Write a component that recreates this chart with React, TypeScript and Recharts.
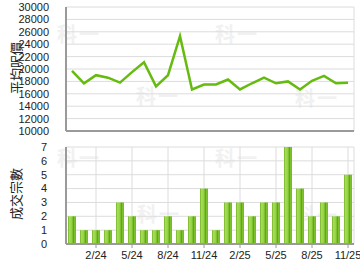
import React from "react";
import { ComposedChart, Line, Bar, XAxis, YAxis, CartesianGrid } from "recharts";

const months = [
  "12/23", "1/24", "2/24", "3/24", "4/24", "5/24", "6/24", "7/24", "8/24", "9/24", "10/24", "11/24",
  "12/24", "1/25", "2/25", "3/25", "4/25", "5/25", "6/25", "7/25", "8/25", "9/25", "10/25", "11/25",
];
const avgPrice = [
  19700, 17700, 19000, 18600, 17800, 19500, 21100, 17200, 19000, 25300, 16700, 17500,
  17500, 18300, 16700, 17700, 18600, 17700, 18000, 16700, 18100, 18900, 17700, 17800,
];
const deals = [2, 1, 1, 1, 3, 2, 1, 1, 2, 1, 2, 4, 1, 3, 3, 2, 3, 3, 7, 4, 2, 3, 2, 5];
const xTicks = ["2/24", "5/24", "8/24", "11/24", "2/25", "5/25", "8/25", "11/25"];
const priceTicks = [10000, 12000, 14000, 16000, 18000, 20000, 22000, 24000, 26000, 28000, 30000];
const dealTicks = [0, 1, 2, 3, 4, 5, 6, 7];
const priceLabel = "平均呎價";
const dealLabel = "成交宗數";
const watermark = "科一";

const data = months.map((m, i) => ({ month: m, price: avgPrice[i], deals: deals[i] }));

const FONT = "'Liberation Sans', Arial, sans-serif";
const tickStyle = { fontSize: 11, fill: "#222", fontFamily: FONT };
const axisLineStyle = { stroke: "#9a9a9a", strokeWidth: 2 };
const gridColor = "#dcdcdc";

const sideLabel = (text: string, top: number) => (
  <div
    style={{
      position: "absolute",
      left: 15,
      top,
      transform: "translate(-50%, -50%) rotate(-90deg)",
      fontSize: 13,
      fontFamily: "'Noto Sans CJK TC', sans-serif",
      color: "#222",
      whiteSpace: "nowrap",
      lineHeight: 1,
    }}
  >
    {text}
  </div>
);

const wm = (left: number, top: number, key: string) => (
  <div
    key={key}
    style={{
      position: "absolute",
      left,
      top,
      fontSize: 20,
      fontWeight: 700,
      fontFamily: "'Noto Sans CJK TC', sans-serif",
      color: "#f1f1f1",
      whiteSpace: "nowrap",
      lineHeight: 1,
      letterSpacing: 2,
    }}
  >
    {watermark}
  </div>
);

export default function App() {
  return (
    <div style={{ position: "absolute", left: 0, top: 0, width: 360, height: 270, background: "#fff" }}>
      {wm(57, 24, "a")}
      {wm(136, 86, "b")}
      {wm(215, 24, "c")}
      {wm(295, 88, "d")}
      {wm(57, 148, "e")}
      {wm(137, 204, "f")}
      {wm(215, 148, "g")}
      {wm(295, 205, "h")}
      <div style={{ position: "absolute", left: 0, top: 0 }}>
        <ComposedChart width={360} height={140} data={data} margin={{ top: 7, right: 6, left: 0, bottom: 0 }}>
          <CartesianGrid stroke={gridColor} strokeWidth={1} />
          <XAxis
            dataKey="month"
            scale="band"
            ticks={xTicks}
            interval={0}
            tick={false}
            tickLine={false}
            height={9}
            axisLine={axisLineStyle}
          />
          <YAxis
            width={66}
            domain={[10000, 30000]}
            ticks={priceTicks}
            interval={0}
            tick={tickStyle}
            tickLine={false}
            tickMargin={11}
            axisLine={axisLineStyle}
          />
          <Line
            dataKey="price"
            type="linear"
            stroke="#66bb11"
            strokeWidth={2.5}
            dot={false}
            isAnimationActive={false}
          />
        </ComposedChart>
      </div>
      <div style={{ position: "absolute", left: 0, top: 140 }}>
        <ComposedChart width={360} height={130} data={data} margin={{ top: 7, right: 6, left: 0, bottom: 0 }}>
          <defs>
            <linearGradient id="barGrad" x1="0" y1="0" x2="1" y2="0">
              <stop offset="0%" stopColor="#72b520" />
              <stop offset="20%" stopColor="#a9dc5e" />
              <stop offset="50%" stopColor="#8fd040" />
              <stop offset="68%" stopColor="#5aa812" />
              <stop offset="85%" stopColor="#86c934" />
              <stop offset="100%" stopColor="#6cb21c" />
            </linearGradient>
          </defs>
          <CartesianGrid stroke={gridColor} strokeWidth={1} />
          <XAxis
            dataKey="month"
            scale="band"
            ticks={xTicks}
            interval={0}
            tick={tickStyle}
            tickLine={{ stroke: "#9a9a9a" }}
            tickSize={4}
            tickMargin={3}
            height={26}
            axisLine={axisLineStyle}
          />
          <YAxis
            width={66}
            domain={[0, 7]}
            ticks={dealTicks}
            interval={0}
            tick={tickStyle}
            tickLine={false}
            tickMargin={13}
            axisLine={axisLineStyle}
          />
          <Bar dataKey="deals" barSize={8} fill="url(#barGrad)" isAnimationActive={false} />
        </ComposedChart>
      </div>
      {sideLabel(priceLabel, 68)}
      {sideLabel(dealLabel, 194)}
    </div>
  );
}
